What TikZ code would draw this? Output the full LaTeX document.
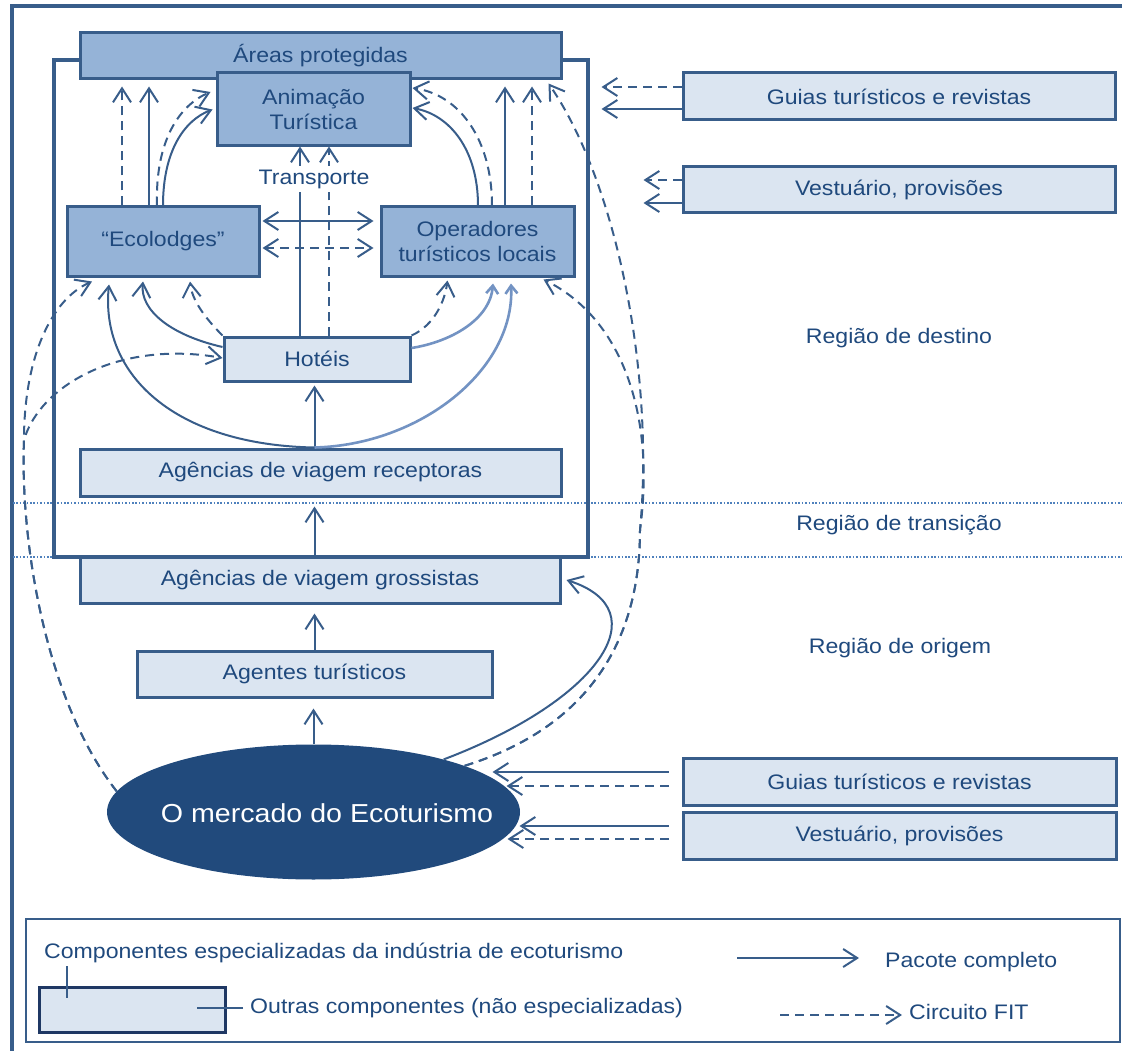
\documentclass[tikz,border=0pt]{standalone}
\usepackage{fontspec}
\setmainfont{Liberation Sans}[FakeStretch=1.1]
\usetikzlibrary{arrows.meta,shapes.geometric}
\definecolor{ln}{HTML}{385D8A}
\definecolor{spec}{HTML}{95B3D7}
\definecolor{oth}{HTML}{DBE5F1}
\definecolor{txt}{HTML}{1F497D}
\definecolor{mkt}{HTML}{214A7C}
\definecolor{dotc}{HTML}{4F81BD}
\definecolor{softc}{HTML}{7393C3}
\definecolor{legb}{HTML}{1F3864}
\newcommand{\mainsz}{\fontsize{21}{25.5}\selectfont}
\newcommand{\ellsz}{\fontsize{26}{30}\selectfont}
\tikzset{
  box/.style={draw=ln, line width=3pt, text=txt, font=\mainsz, inner sep=0pt, align=center},
  specbox/.style={box, fill=spec},
  othbox/.style={box, fill=oth},
  lbl/.style={text=txt, font=\mainsz, inner sep=0pt},
  tipb/.tip={Straight Barb[length=14pt,width=18pt]},
  pkar/.style={draw=ln, line width=2pt, -tipb},
  fitar/.style={pkar, dash pattern=on 9pt off 6pt},
  softar/.style={draw=softc, line width=2.6pt, -{Straight Barb[length=8pt,width=12pt]}},
  dotline/.style={draw=dotc, line width=1.6pt, dash pattern=on 1.6pt off 1.8pt}
}
\begin{document}
\begin{tikzpicture}[x=1pt,y=-1pt]
\useasboundingbox (0,0) rectangle (1122,1051);
% frames and region lines
\draw[ln, line width=3.5pt] (12,1051) -- (12,6) -- (1122,6);
\draw[dotline] (13,503) -- (1122,503);
\draw[dotline] (13,557) -- (1122,557);
\draw[ln, line width=4pt] (53.5,60) rectangle (587.5,557);
% boxes
\node[specbox, minimum width=481pt, minimum height=46pt] (areas) at (320.5,56) {Áreas protegidas};
\node[specbox, minimum width=193pt, minimum height=73pt] (anim) at (313.5,109.5) {Animação\\Turística};
\node[specbox, minimum width=192pt, minimum height=69pt] (eco) at (163,241.5) {“Ecolodges”};
\node[specbox, minimum width=193pt, minimum height=69pt] (oper) at (477.5,241.5) {Operadores\\turísticos locais};
\node[othbox, minimum width=186pt, minimum height=44pt] (hot) at (317,359) {Hotéis};
\node[othbox, minimum width=481pt, minimum height=47pt] (recep) at (320.5,472.5) {Agências de viagem receptoras};
\node[othbox, minimum width=480pt, minimum height=46pt] (gros) at (320,580) {Agências de viagem grossistas};
\node[othbox, minimum width=355pt, minimum height=46pt] (agen) at (314.5,674) {Agentes turísticos};
\node[ellipse, fill=mkt, minimum width=413pt, minimum height=135pt, inner sep=0pt] (ell) at (313.5,812) {};
\node[text=white, font=\ellsz, inner sep=0pt] (elltxt) at (327,813) {O mercado do Ecoturismo};
\node[othbox, minimum width=432pt, minimum height=47pt] (g1) at (899,96.5) {Guias turísticos e revistas};
\node[othbox, minimum width=432pt, minimum height=46pt] (v1) at (899,190) {Vestuário, provisões};
\node[othbox, minimum width=433pt, minimum height=47pt] (g2) at (899.5,781.5) {Guias turísticos e revistas};
\node[othbox, minimum width=433pt, minimum height=47pt] (v2) at (899.5,835.5) {Vestuário, provisões};
% region labels
\node[lbl] (rdest) at (899,338) {Região de destino};
\node[lbl] (rtrans) at (899,525) {Região de transição};
\node[lbl] (rorig) at (900,648) {Região de origem};
% right inputs
\draw[fitar] ([yshift=9.5pt]g1.west) -- ++(-80,0);
\draw[pkar] ([yshift=-12.5pt]g1.west) -- ++(-80,0);
\draw[fitar] ([yshift=10pt]v1.west) -- ++(-38,0);
\draw[pkar] ([yshift=-13pt]v1.west) -- ++(-38,0);
\draw[pkar, shorten <=13pt] ([yshift=9.5pt]g2.west) -- ++(-189,0);
\draw[fitar, shorten <=13pt] ([yshift=-4.5pt]g2.west) -- ++(-175,0);
\draw[pkar, shorten <=13pt] ([yshift=9.5pt]v2.west) -- ++(-162,0);
\draw[fitar, shorten <=13pt] ([yshift=-3.5pt]v2.west) -- ++(-174,0);
% vertical chain
\draw[pkar, shorten >=10pt] (ell.north) -- (ell.north |- agen.south);
\draw[pkar, shorten >=9pt] (agen.north) -- (agen.north |- gros.south);
\draw[pkar, shorten >=9pt] (gros.north -| agen.north) -- (recep.south -| agen.north);
\draw[pkar, shorten >=3pt] (recep.north -| agen.north) -- (hot.south -| agen.north);
\coordinate (rtop) at (recep.north -| agen.north);
% curves from receptoras and hotels
\draw[pkar] (rtop) .. controls (175,445) and (100,375) .. ([xshift=-54pt,yshift=-7pt]eco.south);
\draw[softar] (rtop) .. controls (420,445) and (515,370) .. ([xshift=33.5pt,yshift=-6pt]oper.south);
\draw[softar] ([yshift=11pt]hot.east) .. controls (450,342) and (490,320) .. ([xshift=15.5pt,yshift=-6pt]oper.south);
\draw[pkar] ([yshift=12pt]hot.west) .. controls (170,335) and (140,310) .. ([xshift=-20pt,yshift=-4pt]eco.south);
\draw[fitar] (hot.north west) .. controls (205,318) and (192,300) .. ([xshift=27pt,yshift=-4pt]eco.south);
\draw[fitar] (hot.north east) .. controls (435,325) and (445,300) .. ([xshift=-30pt,yshift=-3pt]oper.south);
% left FIT curves
\draw[fitar] (ell.174) .. controls (45,700) and (20,540) .. (24,440) .. controls (24,360) and (50,300) .. ([xshift=-71pt,yshift=-4pt]eco.south);
\draw[fitar] (ell.174) .. controls (45,700) and (20,540) .. (24,440) .. controls (40,385) and (120,340) .. ([yshift=1pt]hot.west);
% right FIT curves
\draw[fitar] (ell.17) .. controls (580,730) and (640,650) .. (640,530) .. controls (655,370) and (615,180) .. ([xshift=-14pt,yshift=-3pt]areas.south east);
\draw[fitar] (ell.17) .. controls (580,730) and (640,650) .. (640,530) .. controls (655,420) and (625,320) .. ([xshift=-32pt,yshift=-2pt]oper.south east);
\draw[pkar] (ell.22) .. controls (600,700) and (660,610) .. ([xshift=5pt]gros.east);
% up to areas protegidas
\draw[fitar] ([xshift=-41pt]eco.north) -- ++(0,-119);
\draw[pkar] ([xshift=-14pt]eco.north) -- ++(0,-119);
\draw[pkar] ([xshift=27.5pt]oper.north) -- ++(0,-119);
\draw[fitar] ([xshift=54.5pt]oper.north) -- ++(0,-119);
% to animacao
\draw[pkar] (eco.north) .. controls (163,150) and (185,120) .. ([xshift=-3pt]anim.west);
\draw[fitar] ([xshift=-6pt]eco.north) .. controls (155,140) and (180,105) .. ([xshift=-5pt,yshift=17.5pt]anim.west);
\draw[pkar] ([xshift=0.5pt]oper.north) .. controls (478,150) and (450,115) .. ([xshift=1pt,yshift=1.5pt]anim.east);
\draw[fitar] ([xshift=14.5pt]oper.north) .. controls (492,140) and (460,95) .. ([xshift=1pt,yshift=21.5pt]anim.east);
% between ecolodges and operadores
\draw[pkar, tipb-tipb, shorten <=2pt, shorten >=6pt] ([yshift=20.5pt]eco.east) -- ([yshift=20.5pt]oper.west);
\draw[fitar, tipb-tipb, shorten <=2pt, shorten >=6pt] ([yshift=-6.5pt]eco.east) -- ([yshift=-6.5pt]oper.west);
% transporte
\draw[pkar] ([xshift=-17pt]hot.north) -- ++(0,-189);
\draw[fitar] ([xshift=12pt]hot.north) -- ++(0,-189);
\node[lbl, fill=white, inner xsep=1pt, inner ysep=4pt] (transp) at (314,179) {Transporte};
% legend
\node[draw=ln, line width=2pt, minimum width=1094pt, minimum height=123pt, inner sep=0pt] (legend) at (573,980.5) {};
\node[lbl, anchor=west] (lg1) at (44,953) {Componentes especializadas da indústria de ecoturismo};
\node[draw=legb, line width=3pt, fill=oth, minimum width=186pt, minimum height=45pt, inner sep=0pt] (lgbox) at (132,1009.5) {};
\node[lbl, anchor=west] (lg2) at (250,1008) {Outras componentes (não especializadas)};
\node[lbl, anchor=west] (lg3) at (885,962) {Pacote completo};
\node[lbl, anchor=west] (lg4) at (909,1012) {Circuito FIT};
\draw[ln, line width=1.5pt] ([xshift=23pt,yshift=-3pt]lg1.south west) -- ++(0,32);
\draw[ln, line width=1.5pt] ([xshift=-7pt]lg2.west) -- ++(-46,0);
\draw[pkar] ([xshift=-148pt,yshift=4pt]lg3.west) -- ++(122,0);
\draw[fitar] ([xshift=-129pt,yshift=-3pt]lg4.west) -- ++(122,0);
\end{tikzpicture}
\end{document}
